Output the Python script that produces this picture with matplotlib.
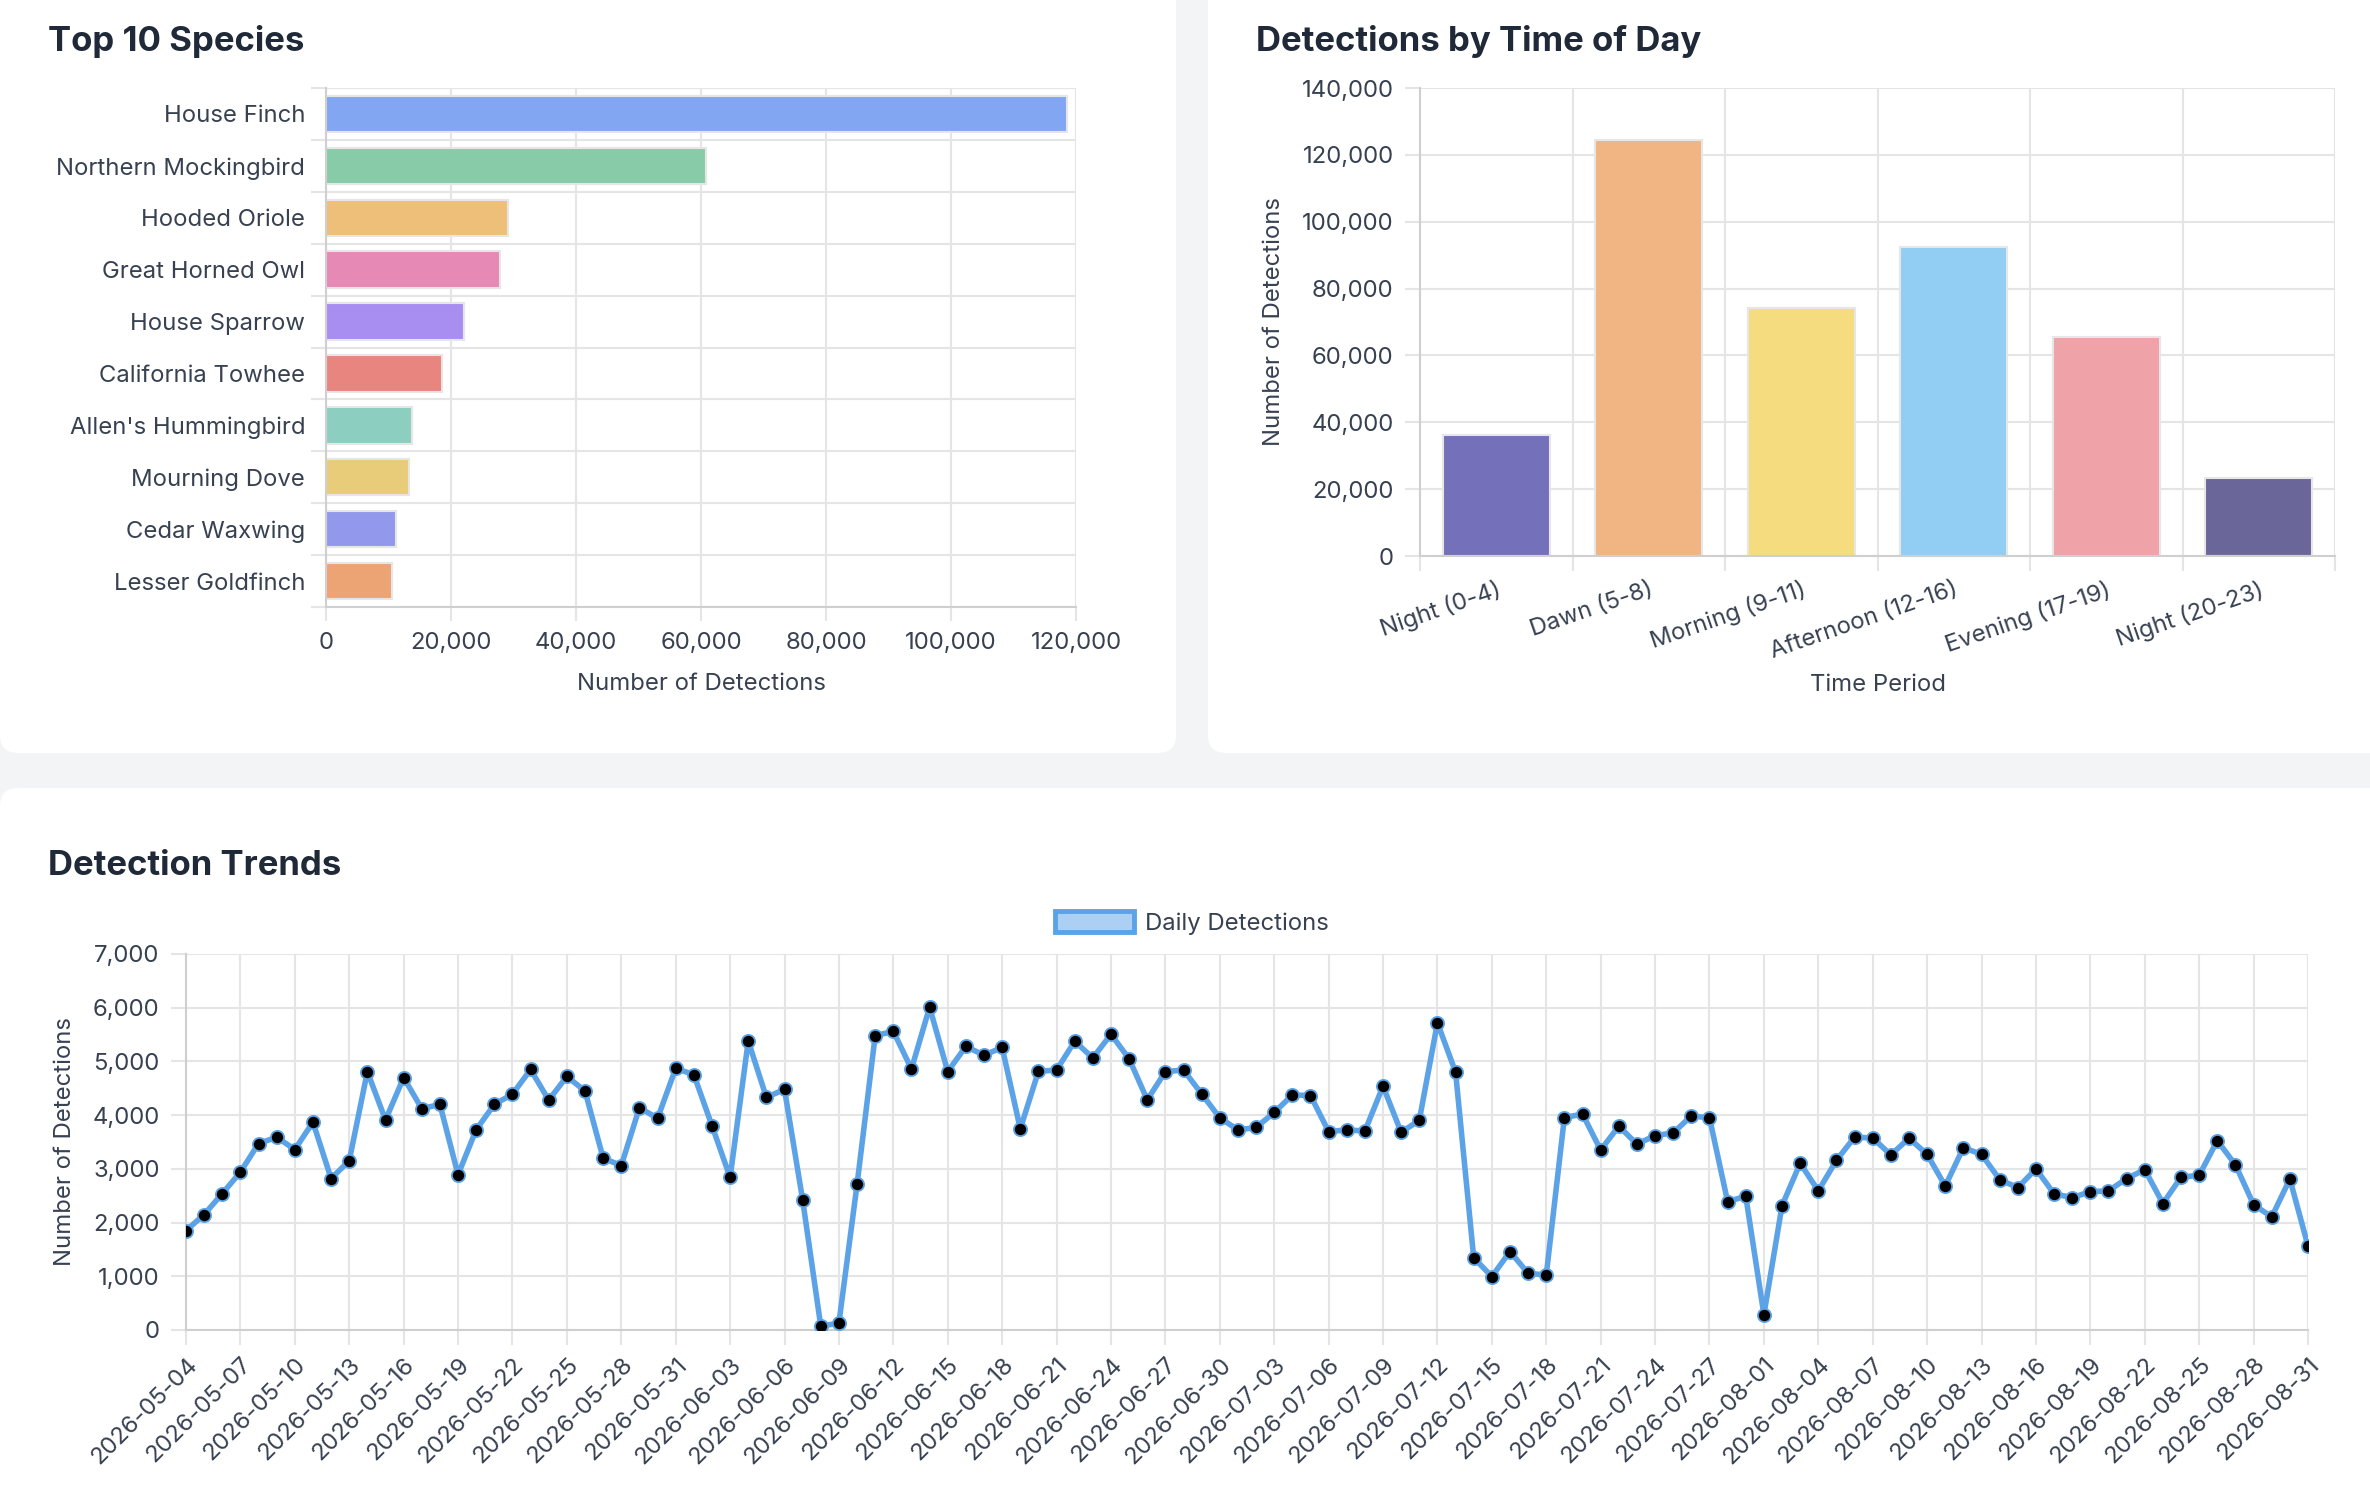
import numpy as np
import pandas as pd
import matplotlib
matplotlib.use('Agg')
import matplotlib.pyplot as plt
from matplotlib.patches import FancyBboxPatch, Patch
from matplotlib.ticker import FuncFormatter, MultipleLocator, FixedLocator

plt.rcParams['font.family'] = ['Inter', 'DejaVu Sans']

# ---------------------------------------------------------------------------
# Data
# ---------------------------------------------------------------------------
species = [
    'House Finch', 'Northern Mockingbird', 'Hooded Oriole', 'Great Horned Owl',
    'House Sparrow', 'California Towhee', "Allen's Hummingbird", 'Mourning Dove',
    'Cedar Waxwing', 'Lesser Goldfinch',
]
species_counts = [118500, 60800, 29100, 27800, 22100, 18500, 13800, 13200, 11200, 10500]
species_colors = [
    '#82a6f2', '#88cba8', '#eebf78', '#e689b4', '#a98ef2',
    '#e8857e', '#8ccfc0', '#e9cc7a', '#9299ec', '#eda474',
]

periods = ['Night (0-4)', 'Dawn (5-8)', 'Morning (9-11)', 'Afternoon (12-16)',
           'Evening (17-19)', 'Night (20-23)']
period_counts = [36200, 124500, 74300, 92500, 65400, 23200]
period_colors = ['#7470b9', '#f0b582', '#f5dc7e', '#92cdf3', '#f0a2a9', '#6a6699']

# daily dates (07-30 and 07-31 have no data)
all_days = pd.date_range('2026-05-04', '2026-08-31', freq='D')
missing_days = ['2026-07-30', '2026-07-31']
dates = [d.strftime('%Y-%m-%d') for d in all_days if d.strftime('%Y-%m-%d') not in missing_days]

daily = [
    1850, 2150, 2540, 2940, 3470, 3590, 3360, 3870, 2820, 3150,
    4810, 3910, 4700, 4120, 4200, 2890, 3730, 4200, 4390, 4850,
    4280, 4720, 4450, 3200, 3060, 4140, 3940, 4870, 4755, 3805,
    2840, 5380, 4330, 4480, 2420, 70, 130, 2710, 5480, 5560,
    4860, 6010, 4810, 5280, 5115, 5260, 3745, 4815, 4840, 5375,
    5065, 5505, 5050, 4285, 4810, 4840, 4395, 3950, 3725, 3770,
    4050, 4375, 4365, 3695, 3725, 3705, 4540, 3680, 3905, 5720,
    4800, 1345, 995, 1460, 1055, 1025, 3955, 4020, 3350, 3795,
    3460, 3620, 3670, 3985, 3950, 2390, 2490, 285, 2315, 3105,
    2590, 3160, 3590, 3575, 3260, 3570, 3270, 2680, 3395, 3270,
    2800, 2650, 3000, 2535, 2465, 2575, 2590, 2820, 2985, 2355,
    2845, 2880, 3525, 3075, 2335, 2105, 2810, 1565,
]

# ---------------------------------------------------------------------------
# Styling
# ---------------------------------------------------------------------------
W, H = 2370, 1486
PAGE_BG = '#f3f4f6'
GRID = '#e5e5e5'
AXIS = '#cfcfcf'
TICK_TXT = '#374151'
TITLE_TXT = '#1f2937'
LINE_BLUE = '#5ba3e6'
TICK_FS = 17.2
TITLE_FS = 25

comma = FuncFormatter(lambda v, p: f'{int(v):,}')


def px_axes(fig, x0, y0, x1, y1):
    """Add axes using pixel coordinates measured from the top-left corner."""
    return fig.add_axes([x0 / W, 1 - y1 / H, (x1 - x0) / W, (y1 - y0) / H])


def style_axes(ax):
    for side in ('top', 'right'):
        ax.spines[side].set_visible(False)
    for side in ('left', 'bottom'):
        ax.spines[side].set_color(AXIS)
        ax.spines[side].set_linewidth(1.5)
    ax.tick_params(which='both', colors=GRID, labelcolor=TICK_TXT,
                   labelsize=TICK_FS, width=1.5)
    ax.set_axisbelow(True)


fig = plt.figure(figsize=(W / 100, H / 100), dpi=100, facecolor=PAGE_BG)

# background cards
bg = fig.add_axes([0, 0, 1, 1])
bg.set_xlim(0, W)
bg.set_ylim(H, 0)
bg.axis('off')
for (cx0, cy0, cx1, cy1) in [(0, -60, 1176, 753), (1208, -60, W + 60, 753),
                             (0, 788, W + 60, H + 60)]:
    bg.add_patch(FancyBboxPatch((cx0, cy0), cx1 - cx0, cy1 - cy0,
                                boxstyle='round,pad=0,rounding_size=18',
                                facecolor='white', edgecolor='none'))

bg.text(48, 42, 'Top 10 Species', fontsize=TITLE_FS, fontweight='bold',
        color=TITLE_TXT, va='center', ha='left')
bg.text(1256, 42, 'Detections by Time of Day', fontsize=TITLE_FS, fontweight='bold',
        color=TITLE_TXT, va='center', ha='left')
bg.text(48, 866, 'Detection Trends', fontsize=TITLE_FS, fontweight='bold',
        color=TITLE_TXT, va='center', ha='left')

# ---------------------------------------------------------------------------
# Top 10 species (horizontal bars)
# ---------------------------------------------------------------------------
ax1 = px_axes(fig, 326, 88, 1076, 607)
ypos = np.arange(len(species))
ax1.barh(ypos, species_counts, height=0.7, color=species_colors,
         edgecolor='#e6e6e6', linewidth=1.5, zorder=2)
ax1.set_ylim(len(species) - 0.5, -0.5)
ax1.set_xlim(0, 120000)
ax1.xaxis.set_major_locator(MultipleLocator(20000))
ax1.xaxis.set_major_formatter(comma)
ax1.set_yticks(ypos)
ax1.set_yticklabels(species)
ax1.yaxis.set_minor_locator(FixedLocator(np.arange(-0.5, len(species), 1.0)))
style_axes(ax1)
ax1.tick_params(axis='y', which='major', length=0, pad=15)
ax1.tick_params(axis='y', which='minor', length=11)
ax1.tick_params(axis='x', which='major', length=10, pad=8)
ax1.grid(True, axis='x', which='major', color=GRID, linewidth=1.5)
ax1.grid(True, axis='y', which='minor', color=GRID, linewidth=1.5)
ax1.set_xlabel('Number of Detections', fontsize=TICK_FS, color=TICK_TXT, labelpad=14)

# ---------------------------------------------------------------------------
# Detections by time of day
# ---------------------------------------------------------------------------
ax2 = px_axes(fig, 1420, 88, 2335, 556)
xpos = np.arange(len(periods))
ax2.bar(xpos, period_counts, width=0.7, color=period_colors,
        edgecolor='#e6e6e6', linewidth=1.5, zorder=2)
ax2.set_xlim(-0.5, len(periods) - 0.5)
ax2.set_ylim(0, 140000)
ax2.yaxis.set_major_locator(MultipleLocator(20000))
ax2.yaxis.set_major_formatter(comma)
ax2.set_xticks(xpos)
ax2.set_xticklabels(periods, rotation=19, ha='right', rotation_mode='anchor')
ax2.xaxis.set_minor_locator(FixedLocator(np.arange(-0.5, len(periods), 1.0)))
style_axes(ax2)
ax2.tick_params(axis='x', which='major', length=0, pad=16)
ax2.tick_params(axis='x', which='minor', length=11)
ax2.tick_params(axis='y', which='major', length=11, pad=8)
ax2.grid(True, axis='y', which='major', color=GRID, linewidth=1.5)
ax2.grid(True, axis='x', which='minor', color=GRID, linewidth=1.5)
ax2.set_xlabel('Time Period', fontsize=TICK_FS, color=TICK_TXT, labelpad=8)
ax2.set_ylabel('Number of Detections', fontsize=TICK_FS, color=TICK_TXT, labelpad=12)

# ---------------------------------------------------------------------------
# Detection trends (daily line)
# ---------------------------------------------------------------------------
ax3 = px_axes(fig, 186, 954, 2308, 1330)
idx = np.arange(len(dates))
ax3.plot(idx, daily, color=LINE_BLUE, linewidth=4, marker='o', markersize=9.5,
         markerfacecolor='black', markeredgecolor=LINE_BLUE, markeredgewidth=1.3,
         zorder=3, label='Daily Detections')
ax3.set_xlim(0, len(dates) - 1)
ax3.set_ylim(0, 7000)
ax3.yaxis.set_major_locator(MultipleLocator(1000))
ax3.yaxis.set_major_formatter(comma)
ax3.set_xticks(idx[::3])
ax3.set_xticklabels(dates[::3], rotation=45, ha='right', rotation_mode='anchor')
style_axes(ax3)
ax3.tick_params(axis='x', length=11, pad=6)
ax3.tick_params(axis='y', length=11, pad=8)
ax3.grid(True, color=GRID, linewidth=1.5)
ax3.set_ylabel('Number of Detections', fontsize=TICK_FS, color=TICK_TXT, labelpad=12)

fig.legend(handles=[Patch(facecolor='#acd0f3', edgecolor=LINE_BLUE, linewidth=3.5,
                          label='Daily Detections')],
           loc='center', bbox_to_anchor=(1192 / W, 1 - 923 / H), frameon=False,
           fontsize=TICK_FS, labelcolor=TICK_TXT, handlelength=3.3,
           handleheight=1.0, handletextpad=0.45)

fig.savefig('out.png', dpi=100, facecolor=PAGE_BG)
